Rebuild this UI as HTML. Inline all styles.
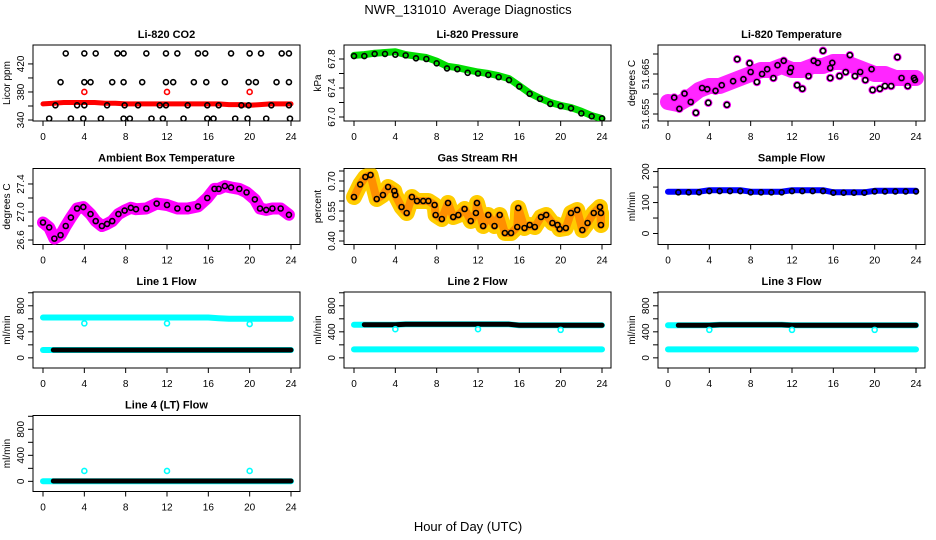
<!DOCTYPE html>
<html><head><meta charset="utf-8">
<style>
html,body{margin:0;padding:0;background:#fff;}
svg{display:block;font-family:"Liberation Sans",Arial,sans-serif;}
</style></head>
<body>
<svg id="chart" width="936" height="540" viewBox="0 0 936 540" xmlns="http://www.w3.org/2000/svg">
<rect width="936" height="540" fill="#fff"/>
<text x="468" y="14" font-size="13" text-anchor="middle">NWR_131010&#160; Average Diagnostics</text>
<text x="468" y="531" font-size="13" text-anchor="middle">Hour of Day (UTC)</text>
</svg>
<script>
// ---- data ----
const xTicks = [0,4,8,12,16,20,24];
const hours = [0,1,2,3,4,5,6,7,8,9,10,11,12,13,14,15,16,17,18,19,20,21,22,23,24];

const co2Red = [363,364,365,365,365,365,364,364,363,363,363,363,363,363,363,363,363,363,362,362,361,362,363,363,363];
const co2RedCircT = [4,12,20];
const co2RedCircV = [380,380,380];
const co2BlackT = [2.2,4,5.1,7.2,7.8,10,11.9,13,15,15.7,18.2,20,21.1,23.1,23.8, 1.7,4,4.6,6.7,7.8,9.6,11.9,12.6,14.6,15.8,17.6,19.9,20.6,22.6,23.8, 1.2,3.3,4,6.2,7.9,9.2,11.3,11.9,14,15.9,17,19.2,19.9,22.1,23.8, 0.6,2.7,3.9,5.6,7.8,8.4,10.5,11.6,13.6,15.9,16.5,18.6,19.8,21.6,23.9];
const co2BlackV = [435,435,435,435,435,435,435,435,435,435,435,435,435,435,435, 394,394,394,394,394,394,394,394,394,394,394,394,394,394,394, 361,361,361,361,361,361,361,361,361,361,361,361,361,361,361, 342,342,342,342,342,342,342,342,342,342,342,342,342,342,342];

const presGreen = [67.85,67.86,67.88,67.89,67.9,67.86,67.84,67.82,67.77,67.7,67.68,67.65,67.62,67.6,67.57,67.53,67.43,67.33,67.26,67.2,67.16,67.13,67.08,67.02,66.98];
const presBlack = [67.84,67.84,67.87,67.87,67.86,67.85,67.81,67.8,67.74,67.67,67.66,67.61,67.6,67.58,67.55,67.51,67.42,67.32,67.25,67.18,67.15,67.12,67.05,67.01,66.98];

const tempMag = [51.658,51.6575,51.659,51.661,51.662,51.662,51.663,51.664,51.665,51.666,51.666,51.667,51.666,51.666,51.667,51.667,51.668,51.668,51.667,51.666,51.665,51.665,51.664,51.664,51.664];
const tempBlackT = [0.6,1.1,1.6,2.2,2.7,3.3,3.8,3.9,4.6,5.2,5.7,6.3,6.7,7.3,7.9,8,8.6,9.1,9.6,10.2,10.6,11.2,11.8,11.9,12.5,13,13.6,14.1,14.5,15,15.7,15.9,15.7,16.6,17.2,17.6,18.1,18.6,19.1,19.7,19.8,20.5,21,21.6,22.2,22.6,23.2,23.8,23.9];
const tempBlackV = [51.6591,51.6563,51.6601,51.658,51.6553,51.6615,51.6612,51.6578,51.6608,51.6622,51.6573,51.6632,51.6687,51.6637,51.6677,51.6655,51.663,51.665,51.6662,51.664,51.6672,51.6683,51.6655,51.6665,51.6622,51.6613,51.6645,51.6683,51.6678,51.6708,51.6665,51.6678,51.664,51.6645,51.6655,51.6697,51.6645,51.6655,51.6635,51.6662,51.661,51.6613,51.662,51.662,51.6692,51.664,51.662,51.664,51.6635];

const ambT = [0,0.6,1.1,1.7,2.2,2.7,3.3,3.9,4.6,5.1,5.7,6.2,6.7,7.3,7.9,8.5,9,10,11,12,13,14,15,15.9,16.6,17,17.6,18.2,19,19.7,20.5,21,21.6,22.2,23,23.8];
const ambV = [26.85,26.78,26.62,26.67,26.8,26.92,27.05,27.07,26.97,26.87,26.8,26.83,26.87,26.97,27.02,27.06,27.04,27.05,27.12,27.1,27.05,27.05,27.08,27.2,27.33,27.33,27.37,27.35,27.33,27.28,27.18,27.05,27.03,27.05,27.05,26.96];

const rhT = [0,0.6,1.1,1.6,2.2,2.8,3.3,3.9,4,4.6,5.1,5.6,6.1,6.7,7.2,7.8,7.9,8.5,9.1,9.6,10.1,10.7,11.3,11.8,11.9,12.5,13,13.6,14.1,14.6,15.2,15.8,15.9,16.5,17,17.5,18.1,18.6,19.2,19.7,19.9,20.5,21,21.6,22.1,22.6,23.2,23.8,23.9,23.9];
const rhV = [0.62,0.683,0.72,0.73,0.61,0.63,0.67,0.65,0.63,0.57,0.54,0.62,0.60,0.60,0.60,0.58,0.53,0.51,0.59,0.52,0.53,0.56,0.50,0.54,0.59,0.475,0.53,0.475,0.53,0.44,0.44,0.47,0.565,0.465,0.48,0.47,0.52,0.53,0.49,0.48,0.46,0.465,0.54,0.555,0.455,0.49,0.54,0.57,0.48,0.54];

const sampleBlue = [135,135,135,135,140,140,140,140,135,135,135,135,140,140,140,140,133,133,133,133,138,138,138,138,138];
const sampleBlack = [133,133,133,133,137,137,137,137,133,133,133,133,137,137,137,137,132,132,132,132,136,136,136,136,136];

const l1Cyan = [620,620,620,620,620,620,620,620,620,620,620,620,620,620,620,620,620,610,600,600,600,600,600,600,600];
const l1Black = [120,120,120,120,120,120,120,120,120,120,120,120,120,120,120,120,120,120,120,120,120,120,120,120,120];
const l1CircT = [4,12,20]; const l1CircV = [530,530,520];
const l2Black = [510,510,510,510,510,515,515,515,515,515,515,515,515,515,515,515,500,500,500,500,500,500,500,500,500];
const l2Cyan = [130,130,130,130,130,130,130,130,130,130,130,130,130,130,130,130,130,130,130,130,130,130,130,130,130];
const l2CircT = [4,12,20]; const l2CircV = [440,440,430];
const l3Black = [500,500,500,500,500,510,510,510,510,510,510,510,500,500,500,500,500,500,500,500,500,500,500,500,500];
const l3Cyan = [130,130,130,130,130,130,130,130,130,130,130,130,130,130,130,130,130,130,130,130,130,130,130,130,130];
const l3CircT = [4,12,20]; const l3CircV = [430,430,430];
const l4Black = [5,5,5,5,5,5,5,5,5,5,5,5,5,5,5,5,5,5,5,5,5,5,5,5,5];
const l4Cyan = [0,0,0,0,0,0,0,0,0,0,0,0,0,0,0,0,0,0,0,0,0,0,0,0,0];
const l4CircT = [4,12,20]; const l4CircV = [160,160,160];

// ---- drawing ----
const NS='http://www.w3.org/2000/svg';
const svg=document.getElementById('chart');
function mk(tag,attrs,parent){const e=document.createElementNS(NS,tag);for(const k in attrs)e.setAttribute(k,attrs[k]);(parent||svg).appendChild(e);return e;}

const colL=[33,344,658], rowT=[45,168.5,292,415.5], W=267, H=76;

function panel(c,r,name,title,ylab,lo,hi,ticks,labels){
  const g=mk('g',{});
  
  
  const L=colL[c], T=rowT[r], B=T+H;
  const xs=t=>L+10+t*248/24;
  const ys=v=>B-(v-lo)/(hi-lo)*H;
  const t=mk('text',{x:L+W/2,y:T-7,'font-size':11,'font-weight':'bold','text-anchor':'middle'},g);
  t.textContent=title;
  
  
  const yl=mk('text',{x:0,y:0,'font-size':10,'text-anchor':'middle',transform:`translate(${L-23},${T+H/2}) rotate(-90)`},g);
  yl.textContent=ylab;
  
  
  const box=mk('rect',{x:L,y:T,width:W,height:H,fill:'none',stroke:'#000','stroke-width':1},g);
  
  
  const ax=mk('g',{},g);
  
  
  xTicks.forEach(v=>{
    mk('line',{x1:xs(v),x2:xs(v),y1:B,y2:B+5,stroke:'#000'},ax);
    const tl=mk('text',{x:xs(v),y:B+19,'font-size':10,'text-anchor':'middle'},ax);
    tl.textContent=String(v);
  });
  const ay=mk('g',{},g);
  
  
  ticks.forEach(v=>{mk('line',{x1:L-5,x2:L,y1:ys(v),y2:ys(v),stroke:'#000'},ay);});
  labels.forEach(v=>{
    const tl=mk('text',{x:0,y:0,'font-size':10,'text-anchor':'middle',transform:`translate(${L-9},${ys(v)}) rotate(-90)`},ay);
    tl.textContent=String(v);
  });
  const clip='clip'+c+r;
  const cp=mk('clipPath',{id:clip},svg); mk('rect',{x:L,y:T,width:W,height:H},cp);
  const plot=mk('g',{'clip-path':`url(#${clip})`},g);
  return {xs,ys,g:plot};
}
function band(p,T,V,color,w,name,op){
  const pts=T.map((t,i)=>p.xs(t).toFixed(1)+','+p.ys(V[i]).toFixed(1)).join(' ');
  const e=mk('polyline',{points:pts,fill:'none',stroke:color,'stroke-width':w,'stroke-linejoin':'round','stroke-linecap':'round',opacity:op||1},p.g);
  
  
}
function pts(p,T,V,color,name,r,sw){
  const g=mk('g',{},p.g);
  
  
  T.forEach((t,i)=>{mk('circle',{cx:p.xs(t),cy:p.ys(V[i]),r:r||2.5,fill:'none',stroke:color,'stroke-width':sw||1.6},g);});
}

// CO2
let p=panel(0,0,'co2','Li-820 CO2','Licor ppm',338.6,447,[340,360,380,400,420],[340,380,420]);
band(p,hours,co2Red,'#ff0000',5,'co2-red-series');
pts(p,co2RedCircT,co2RedCircV,'#ff0000','co2-red-points');
pts(p,co2BlackT,co2BlackV,'#000','co2-black-points');
// Pressure
p=panel(1,0,'pressure','Li-820 Pressure','kPa',66.945,67.993,[67.0,67.2,67.4,67.6,67.8],['67.0','67.4','67.8']);
band(p,hours,presGreen,'#00dd00',7,'pressure-green-series');
pts(p,hours,presBlack,'#000','pressure-black-points');
// Temperature
p=panel(2,0,'li820-temp','Li-820 Temperature','degrees C',51.65325,51.67225,[51.655,51.66,51.665,51.67],['51.655','51.665']);
band(p,hours,tempMag,'#ff00ff',16,'temp-magenta-series',0.85);
pts(p,tempBlackT,tempBlackV,'#ff00ff','temp-magenta-points',3.2,2);
pts(p,tempBlackT,tempBlackV,'#000','temp-black-points');
// Ambient
p=panel(0,1,'ambient','Ambient Box Temperature','degrees C',26.536,27.621,[26.6,26.8,27.0,27.2,27.4],['26.6','27.0','27.4']);
band(p,ambT,ambV,'#ff00ff',12,'ambient-magenta-series');
pts(p,ambT,ambV,'#000','ambient-black-points');
// RH
p=panel(1,1,'rh','Gas Stream RH','percent',0.3825,0.7625,[0.40,0.45,0.50,0.55,0.60,0.65,0.70,0.75],['0.40','0.55','0.70']);
band(p,rhT,rhV,'#ffcc00',16,'rh-yellow-series');
band(p,rhT,rhV,'#ff6600',8,'rh-orange-series',0.6);
pts(p,rhT,rhV,'#000','rh-black-points');
// Sample flow
p=panel(2,1,'sample-flow','Sample Flow','ml/min',-35.5,210,[0,50,100,150,200],[0,100,200]);
band(p,hours,sampleBlue,'#0000ff',6,'sample-blue-series');
pts(p,hours.slice(1),sampleBlack.slice(1),'#000','sample-black-points');
// Line flows
const fT=[0,200,400,600,800,1000], fL=[0,400,800];
p=panel(0,2,'line1','Line 1 Flow','ml/min',-156,1012,fT,fL);
band(p,hours,l1Cyan,'#00ffff',6,'line1-cyan-series');
band(p,hours,l1Black,'#00ffff',6,'line1-cyan-low');
band(p,hours.slice(1),l1Black.slice(1),'#000',5,'line1-black-series');
pts(p,l1CircT,l1CircV,'#00ffff','line1-cyan-points');
p=panel(1,2,'line2','Line 2 Flow','ml/min',-156,1012,fT,fL);
band(p,hours,l2Cyan,'#00ffff',6,'line2-cyan-series');
band(p,hours,l2Black,'#00ffff',6,'line2-cyan-high');
band(p,hours.slice(1),l2Black.slice(1),'#000',5,'line2-black-series');
pts(p,l2CircT,l2CircV,'#00ffff','line2-cyan-points');
p=panel(2,2,'line3','Line 3 Flow','ml/min',-156,1012,fT,fL);
band(p,hours,l3Cyan,'#00ffff',6,'line3-cyan-series');
band(p,hours,l3Black,'#00ffff',6,'line3-cyan-high');
band(p,hours.slice(1),l3Black.slice(1),'#000',5,'line3-black-series');
pts(p,l3CircT,l3CircV,'#00ffff','line3-cyan-points');
p=panel(0,3,'line4','Line 4 (LT) Flow','ml/min',-156,1012,fT,fL);
band(p,hours,l4Cyan,'#00ffff',6,'line4-cyan-series');
band(p,hours.slice(1),l4Black.slice(1),'#000',5,'line4-black-series');
pts(p,l4CircT,l4CircV,'#00ffff','line4-cyan-points');
</script>
</body></html>
